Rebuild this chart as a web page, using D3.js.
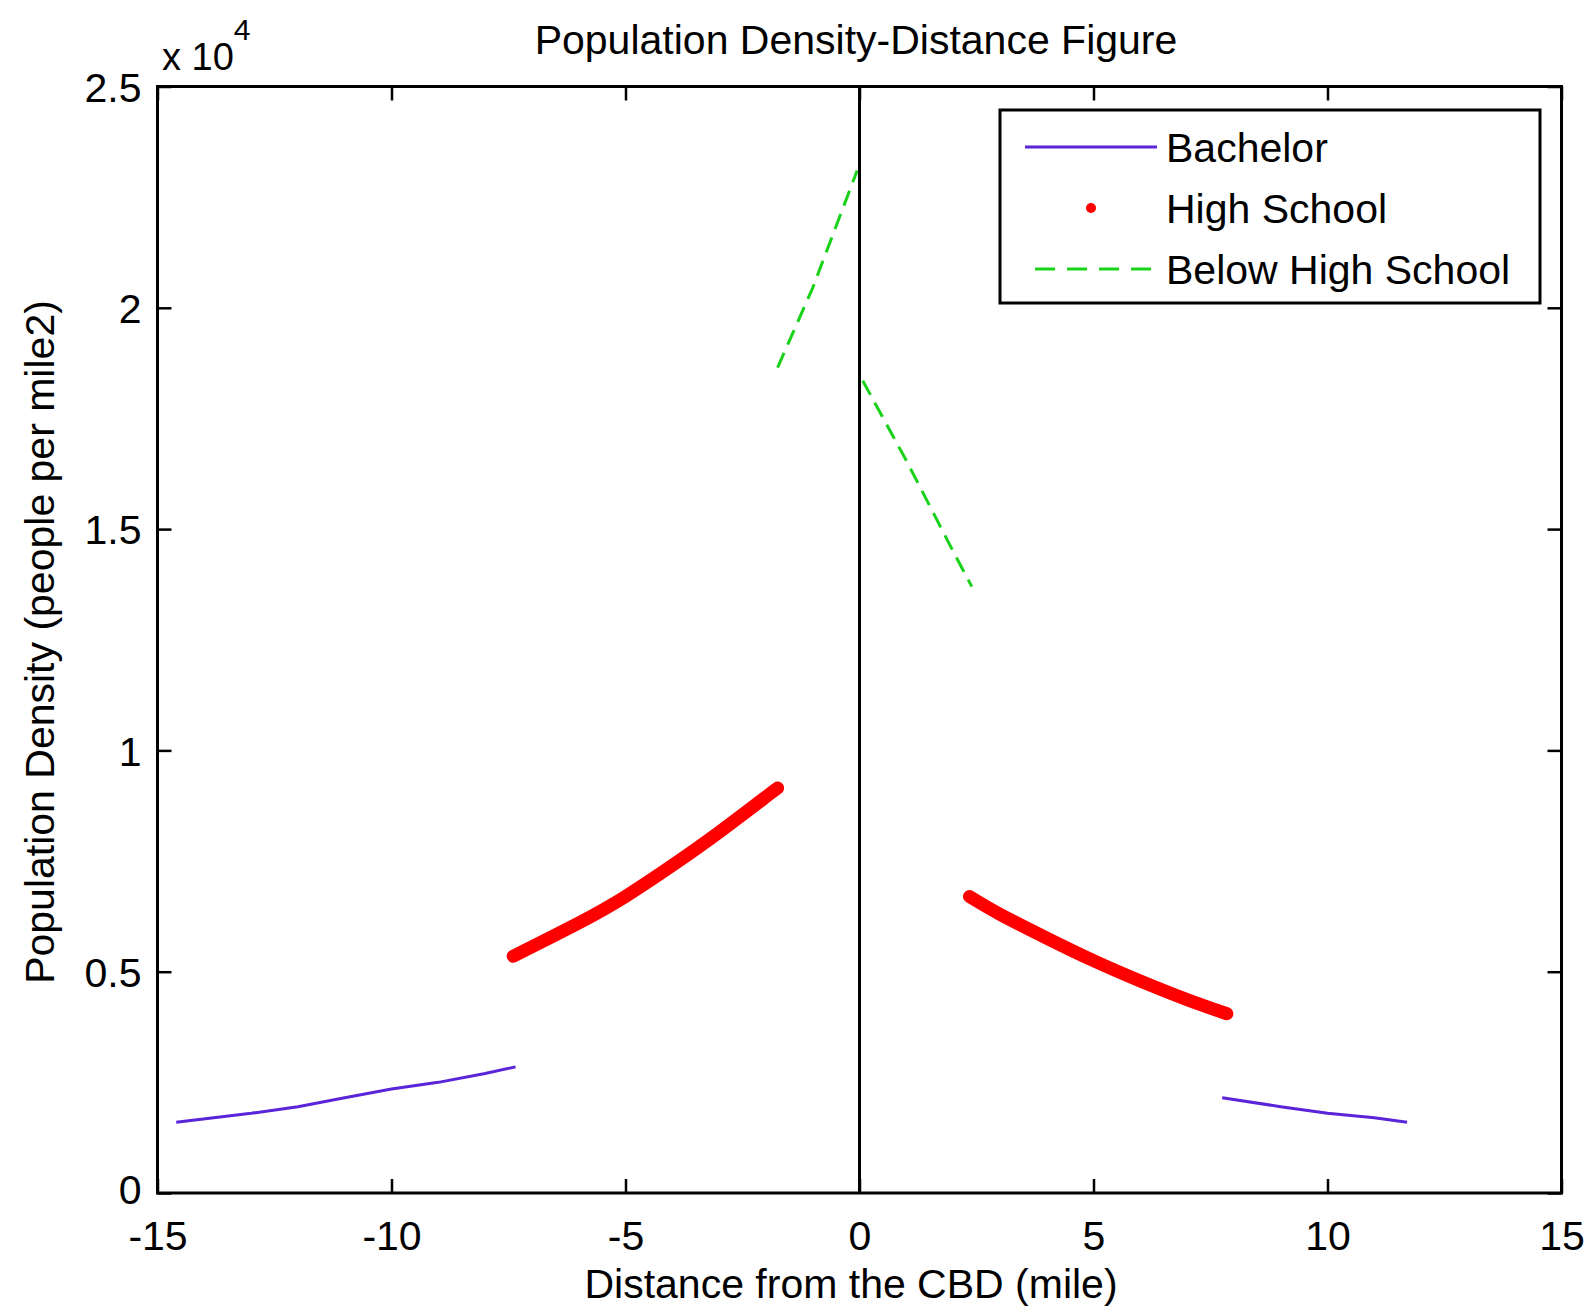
<!DOCTYPE html>
<html>
<head>
<meta charset="utf-8">
<script src="https://cdn.jsdelivr.net/npm/d3@7"></script>
<style>
  html, body { margin: 0; padding: 0; background: #fff; }
  svg text { font-family: "Liberation Sans", Arial, sans-serif; fill: #000; }
</style>
</head>
<body>
<svg id="chart" width="1592" height="1310"></svg>
<script>
// ---- data ----
const xTicks = [-15, -10, -5, 0, 5, 10, 15];
const xTickLabels = ["-15", "-10", "-5", "0", "5", "10", "15"];
const yTicks = [0, 5000, 10000, 15000, 20000, 25000];
const yTickLabels = ["0", "0.5", "1", "1.5", "2", "2.5"];

const bachelorLeft = [[-14.6, 1600], [-13, 1800], [-12, 1950], [-11, 2150], [-10, 2350], [-9, 2500], [-8, 2700], [-7.35, 2850]];
const bachelorRight = [[7.75, 2150], [9, 1950], [10, 1800], [11, 1700], [11.7, 1600]];
const highLeft = [[-7.4, 5350], [-6, 6100], [-5, 6700], [-4, 7400], [-3, 8150], [-2, 8950], [-1.75, 9150]];
const highRight = [[2.35, 6700], [3, 6300], [4, 5760], [5, 5250], [6, 4790], [7, 4370], [7.85, 4050]];
const belowLeft = [[-1.75, 18650], [-1, 20450], [-0.05, 23100]];
const belowRight = [[0.07, 18350], [1, 16550], [2, 14500], [2.4, 13700]];

const seriesNames = ["Bachelor", "High School", "Below High School"];
const titleText = "Population Density-Distance Figure";
const xLabel = "Distance from the CBD (mile)";
const yLabel = "Population Density (people per mile2)";

// ---- layout ----
const svg = d3.select("#chart");
const L = 157.5, R = 1561.5, T = 86.5, B = 1193;
const x = d3.scaleLinear().domain([-15, 15]).range([L, R]);
const y = d3.scaleLinear().domain([0, 25000]).range([B, T]);
const FS = 41;
const TL = 14;

svg.append("rect").attr("width", 1592).attr("height", 1310).attr("fill", "#fff");

const line = d3.line().x(d => x(d[0])).y(d => y(d[1]));
const smooth = d3.line().x(d => x(d[0])).y(d => y(d[1])).curve(d3.curveNatural);

// series
const bachColor = "#5a24d8";
[bachelorLeft, bachelorRight].forEach(s => {
  svg.append("path").attr("d", line(s)).attr("fill", "none")
    .attr("stroke", bachColor).attr("stroke-width", 3);
});
[highLeft, highRight].forEach(s => {
  svg.append("path").attr("d", smooth(s)).attr("fill", "none")
    .attr("stroke", "#ff0000").attr("stroke-width", 13).attr("stroke-linecap", "round");
});
[belowLeft, belowRight].forEach(s => {
  svg.append("path").attr("d", line(s)).attr("fill", "none")
    .attr("stroke", "#19d219").attr("stroke-width", 3).attr("stroke-dasharray", "16,9");
});

// zero vertical line
svg.append("line").attr("x1", x(0)).attr("x2", x(0)).attr("y1", T).attr("y2", B)
  .attr("stroke", "#000").attr("stroke-width", 3);

// frame
svg.append("rect").attr("x", L).attr("y", T).attr("width", R - L).attr("height", B - T)
  .attr("fill", "none").attr("stroke", "#000").attr("stroke-width", 3);

// axes with inward ticks
const gx = svg.append("g").attr("transform", `translate(0,${B})`)
  .call(d3.axisBottom(x).tickValues(xTicks).tickSize(-TL).tickPadding(TL + 43).tickFormat((d, i) => xTickLabels[i]));
const gxt = svg.append("g").attr("transform", `translate(0,${T})`)
  .call(d3.axisTop(x).tickValues(xTicks).tickSize(-TL).tickFormat(""));
const gy = svg.append("g").attr("transform", `translate(${L},0)`)
  .call(d3.axisLeft(y).tickValues(yTicks).tickSize(-TL).tickPadding(TL + 2).tickFormat((d, i) => yTickLabels[i]));
const gyr = svg.append("g").attr("transform", `translate(${R},0)`)
  .call(d3.axisRight(y).tickValues(yTicks).tickSize(-TL).tickFormat(""));
[gx, gxt, gy, gyr].forEach(g => {
  g.select(".domain").remove();
  g.selectAll(".tick line").attr("stroke", "#000").attr("stroke-width", 2.5);
  g.selectAll("text").attr("font-size", FS).attr("font-family", "Liberation Sans, Arial, sans-serif").attr("fill", "#000");
});
gx.selectAll("text").attr("dy", "0");
gy.selectAll("text").attr("dy", "0.36em");
gy.selectAll(".tick").filter(d => d === 0).select("text").attr("dy", "0.26em");

// exponent label
const ex = svg.append("text").attr("x", 162).attr("y", 70).attr("font-size", 38);
ex.append("tspan").text("x 10");
ex.append("tspan").attr("dy", -30).attr("font-size", 30).text("4");

// title
svg.append("text").attr("x", 856).attr("y", 54).attr("text-anchor", "middle")
  .attr("font-size", FS).text(titleText);

// axis labels
svg.append("text").attr("x", 851).attr("y", 1298).attr("text-anchor", "middle")
  .attr("font-size", FS).text(xLabel);
svg.append("text").attr("transform", "translate(54,642) rotate(-90)").attr("text-anchor", "middle")
  .attr("font-size", FS).text(yLabel);

// legend
const lg = svg.append("g");
lg.append("rect").attr("x", 1000).attr("y", 110).attr("width", 540).attr("height", 193)
  .attr("fill", "#fff").attr("stroke", "#000").attr("stroke-width", 3);
const rows = [147, 208, 269];
lg.append("line").attr("x1", 1025).attr("x2", 1157).attr("y1", rows[0]).attr("y2", rows[0])
  .attr("stroke", bachColor).attr("stroke-width", 3);
lg.append("circle").attr("cx", 1091).attr("cy", rows[1]).attr("r", 5).attr("fill", "#ff0000");
lg.append("line").attr("x1", 1035).attr("x2", 1157).attr("y1", rows[2]).attr("y2", rows[2])
  .attr("stroke", "#19d219").attr("stroke-width", 3).attr("stroke-dasharray", "20,12");
seriesNames.forEach((n, i) => {
  lg.append("text").attr("x", 1166).attr("y", rows[i] + 15).attr("font-size", FS).text(n);
});
</script>
</body>
</html>
